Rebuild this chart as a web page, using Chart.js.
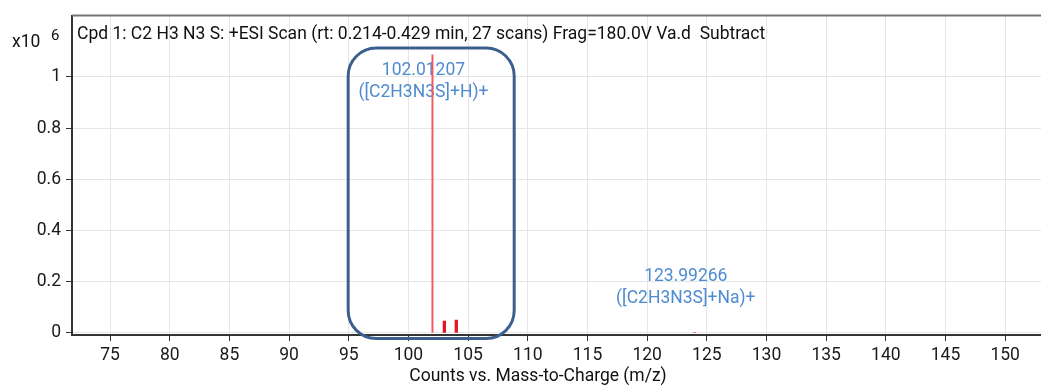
<!DOCTYPE html>
<html>
<head>
<meta charset="utf-8">
<script src="https://cdn.jsdelivr.net/npm/chart.js@4.4.1/dist/chart.umd.min.js"></script>
<style>
  html, body { margin: 0; padding: 0; background: #fff; }
  canvas { display: block; }
</style>
</head>
<body>
<canvas id="spectrum" width="1041" height="388"></canvas>
<script>
// labelled ions (m/z, counts x10^6)
const ionMz = [102.01207, 123.99266];
const ionCounts = [1.086, 0.001];
const ionNames = ['([C2H3N3S]+H)+', '([C2H3N3S]+Na)+'];

// isotope peaks of the protonated ion
const isoMz = [103.01, 104.01];
const isoCounts = [0.046, 0.05];

const xTicks = [75, 80, 85, 90, 95, 100, 105, 110, 115, 120, 125, 130, 135, 140, 145, 150];
const yTicks = [0, 0.2, 0.4, 0.6, 0.8, 1];

const titleText = 'Cpd 1: C2 H3 N3 S: +ESI Scan (rt: 0.214-0.429 min, 27 scans) Frag=180.0V Va.d  Subtract';
const xTitle = 'Counts vs. Mass-to-Charge (m/z)';

const FONT = 'Roboto, "Liberation Sans", sans-serif';
const FS = 17.5;

const spectrumDecor = {
    id: 'spectrumDecor',
    beforeDatasetsDraw(chart, args, opts) {
        const { ctx, scales: { x, y } } = chart;
        ctx.save();
        ctx.fillStyle = '#4f8bd0';
        ctx.font = FS + 'px ' + FONT;
        ctx.textAlign = 'center';
        ctx.textBaseline = 'middle';
        ionMz.forEach((mz, i) => {
            const px = x.getPixelForValue(mz) - 9;
            const py = y.getPixelForValue(opts.labelY[i]);
            ctx.fillText(mz.toFixed(5), px, py);
            ctx.fillText(ionNames[i], px, py + 22);
        });
        ctx.restore();
    },
    afterDraw(chart, args, opts) {
        const { ctx, chartArea: area, scales: { x, y } } = chart;
        ctx.save();

        // frame line along the top
        ctx.strokeStyle = '#777';
        ctx.lineWidth = 2;
        ctx.beginPath();
        ctx.moveTo(area.left, area.top);
        ctx.lineTo(area.right, area.top);
        ctx.stroke();

        // scan title
        ctx.fillStyle = '#111';
        ctx.font = FS + 'px ' + FONT;
        ctx.textAlign = 'left';
        ctx.textBaseline = 'middle';
        ctx.fillText(titleText, area.left + 5, 35);

        // y multiplier
        ctx.fillText('x10', 12, 43);
        ctx.font = '15px ' + FONT;
        ctx.fillText('6', 51, 36);

        // x axis title
        ctx.font = FS + 'px ' + FONT;
        ctx.textAlign = 'center';
        ctx.fillText(xTitle, 538, 377);

        // highlight box round the main ion
        const b = opts.box;
        const l = x.getPixelForValue(b.xMin), r = x.getPixelForValue(b.xMax);
        const t = y.getPixelForValue(b.yMax), btm = y.getPixelForValue(b.yMin);
        ctx.strokeStyle = '#3d5f8e';
        ctx.lineWidth = 3;
        ctx.beginPath();
        ctx.roundRect(l, t, r - l, btm - t, 28);
        ctx.stroke();

        ctx.restore();
    }
};

new Chart(document.getElementById('spectrum'), {
    type: 'bar',
    data: {
        datasets: [{
            data: ionMz.map((mz, i) => ({ x: mz, y: ionCounts[i] })),
            backgroundColor: '#f25a5e',
            barThickness: 1.3,
            grouped: false
        }, {
            data: isoMz.map((mz, i) => ({ x: mz, y: isoCounts[i] })),
            backgroundColor: '#e8141e',
            barThickness: 2.6,
            grouped: false
        }]
    },
    options: {
        responsive: false,
        animation: false,
        devicePixelRatio: 1,
        layout: { padding: { top: 12, right: 0, left: 0, bottom: 0 } },
        plugins: {
            legend: { display: false },
            tooltip: { enabled: false },
            spectrumDecor: {
                labelY: [1.024, 0.221],
                box: { xMin: 94.95, xMax: 108.86, yMin: -0.022, yMax: 1.113 }
            }
        },
        scales: {
            x: {
                type: 'linear',
                offset: false,
                min: 71.81,
                max: 153.0,
                afterBuildTicks: s => { s.ticks = xTicks.map(v => ({ value: v })); },
                afterFit: s => { s.height = 53; },
                grid: { offset: false, color: '#e6e6e6', tickColor: '#333', tickLength: 6 },
                border: { color: '#333', width: 2 },
                ticks: { color: '#1a1a1a', font: { family: FONT, size: FS }, padding: 4, maxRotation: 0 }
            },
            y: {
                min: -0.008,
                max: 1.24,
                afterBuildTicks: s => { s.ticks = yTicks.map(v => ({ value: v })); },
                afterFit: s => { s.width = 72; },
                grid: { color: '#e6e6e6', tickColor: '#333', tickLength: 6 },
                border: { color: '#333', width: 2 },
                ticks: { color: '#1a1a1a', font: { family: FONT, size: FS }, padding: 5, callback: v => String(v) }
            }
        }
    },
    plugins: [spectrumDecor]
});
</script>
</body>
</html>
